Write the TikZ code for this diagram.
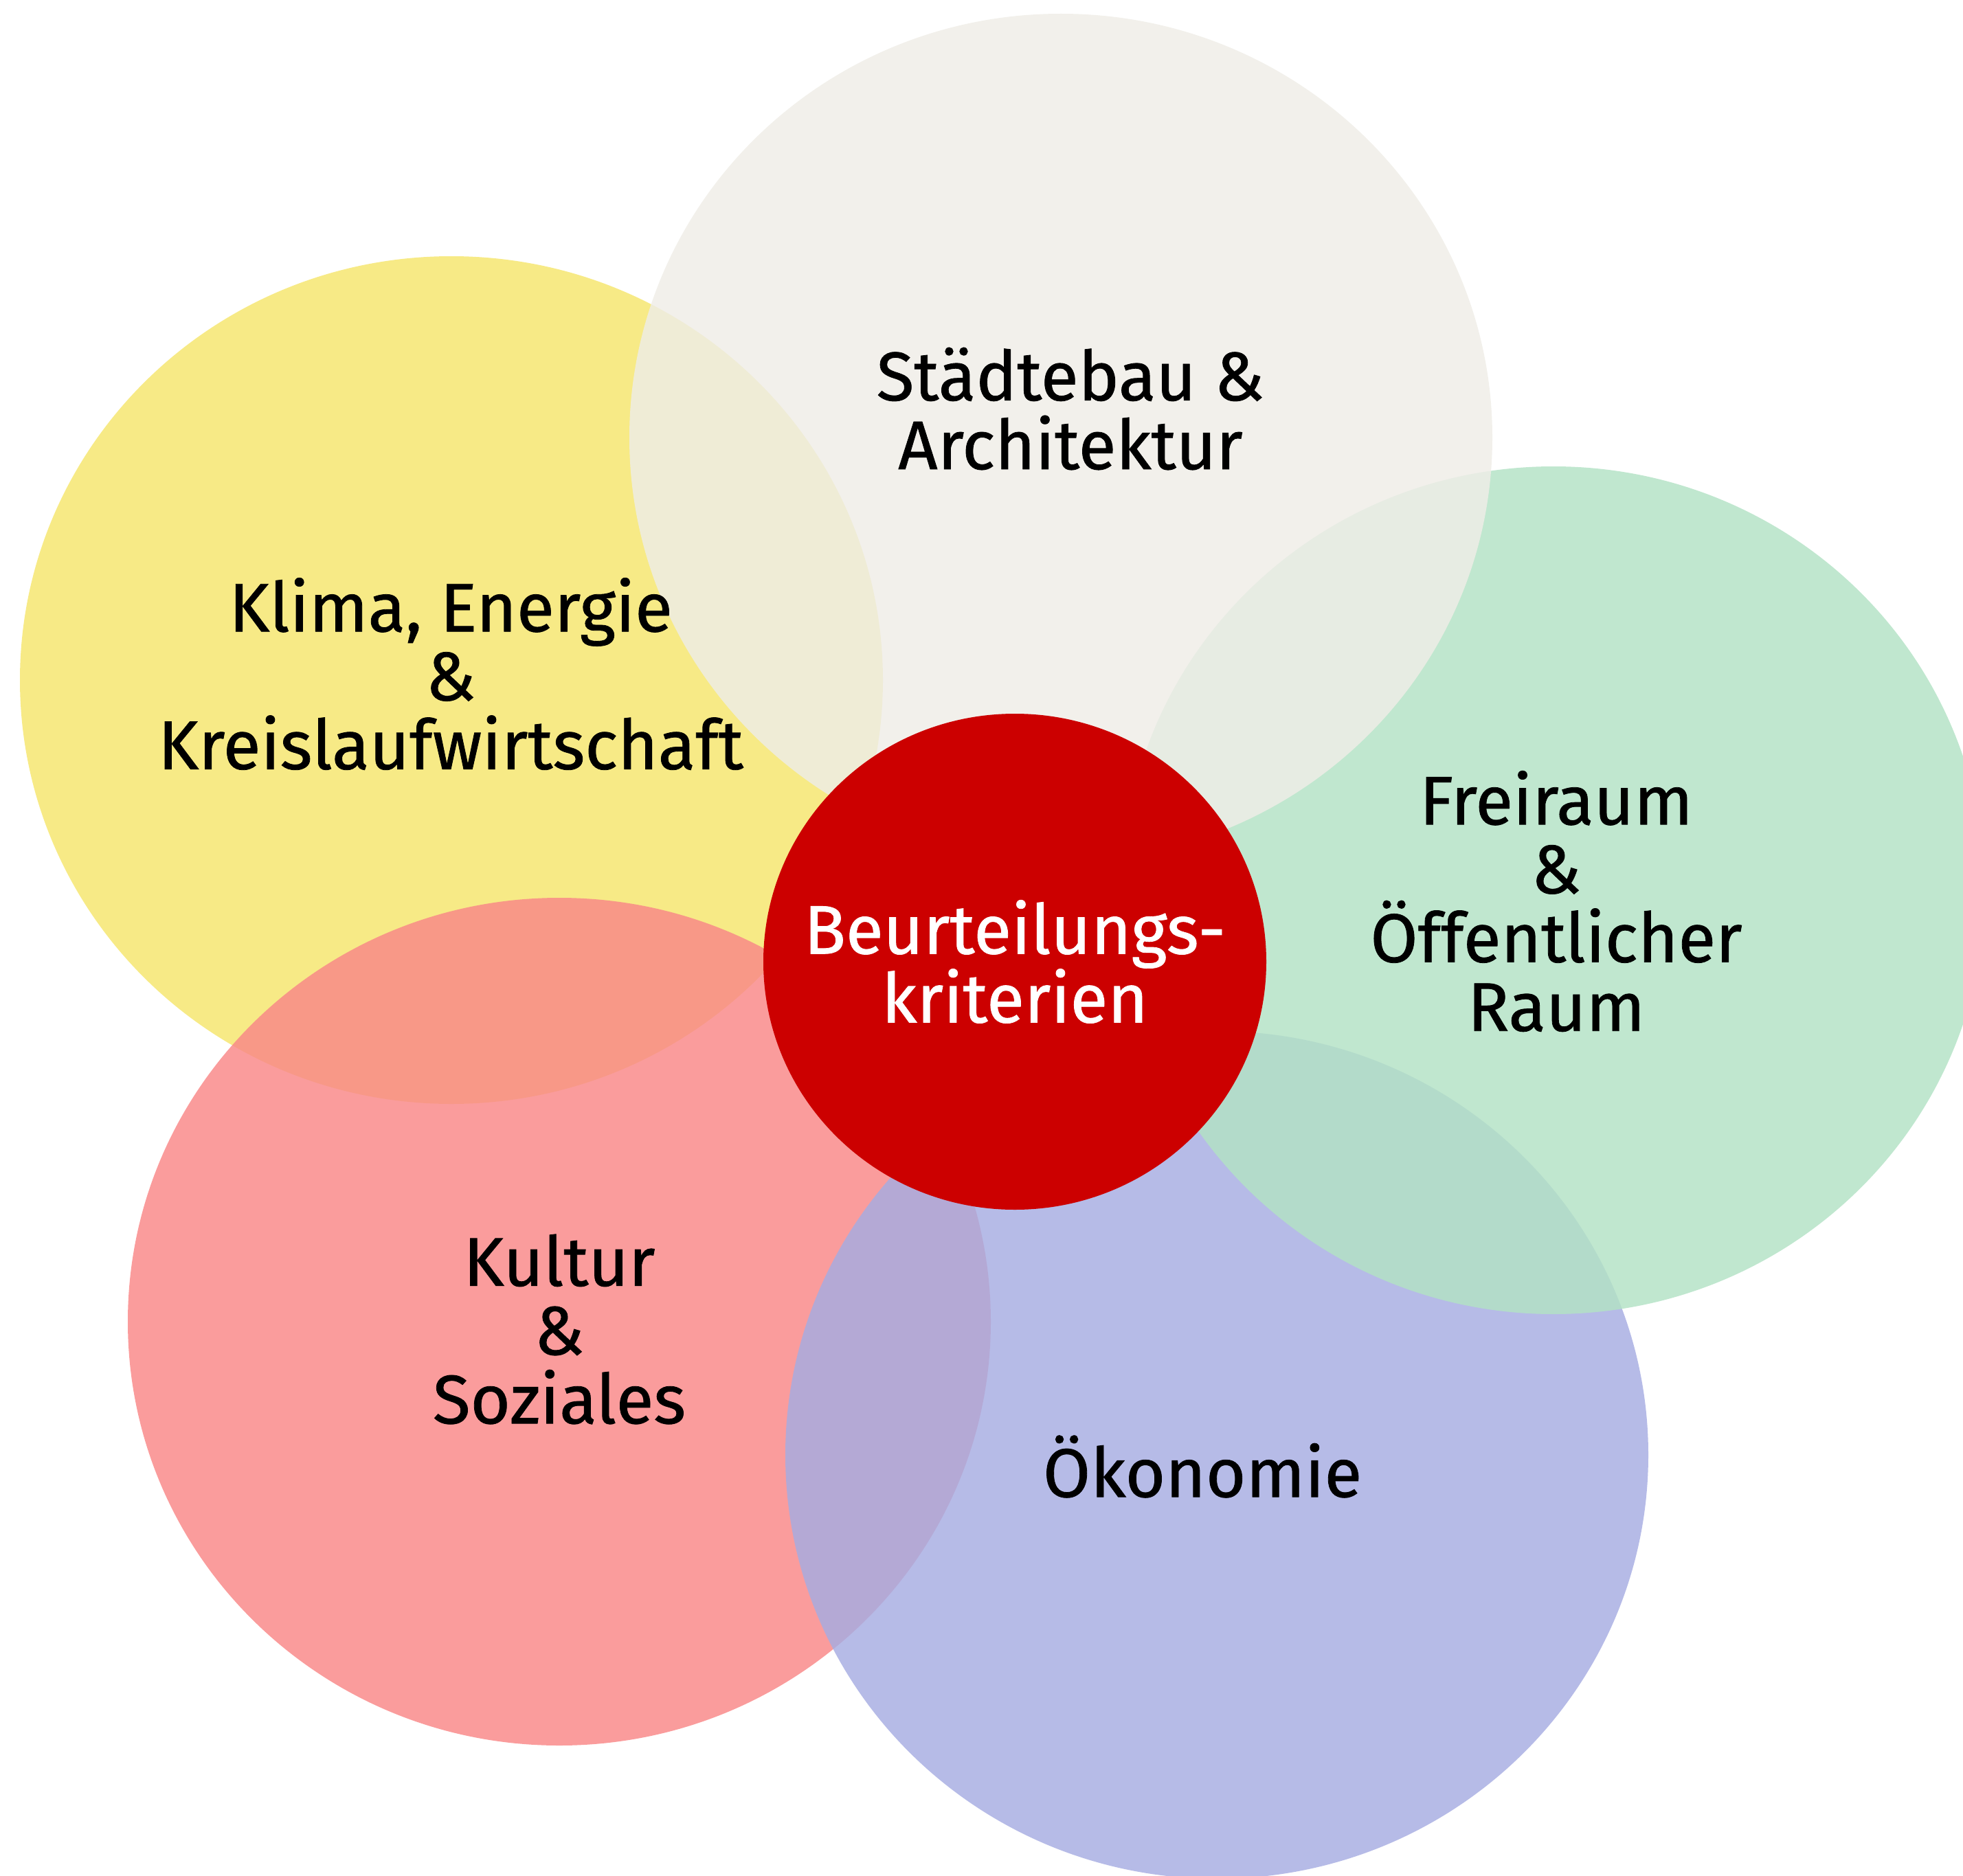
\documentclass[tikz,border=0pt]{standalone}
\usepackage{fontspec}
\setmainfont{Fira Sans}
\newfontfamily\fieldfont[FakeBold=0.8]{Fira Sans}
\usetikzlibrary{shapes.geometric}

\definecolor{klimagelb}{RGB}{245,230,110}
\definecolor{kulturrosa}{RGB}{249,136,136}
\definecolor{oekoblau}{RGB}{167,173,226}
\definecolor{freigruen}{RGB}{179,226,197}
\definecolor{baubeige}{RGB}{239,237,231}
\definecolor{kritrot}{RGB}{204,0,0}

\begin{document}
\begin{tikzpicture}
    \tikzstyle{field}=[ellipse, minimum width=12.56cm, minimum height=12.34cm, inner sep=0pt, fill opacity=0.83]
    \tikzstyle{fieldtext}=[align=center, inner sep=0pt, font=\fieldfont\fontsize{28.5}{28.5}\selectfont]
    \useasboundingbox (0,0) rectangle (28.57,-27.31);
    \clip (0,0) rectangle (28.57,-27.31);

    % draw fields
    \foreach \n/\c/\x/\y in {klima/klimagelb/6.57/-9.90, kultur/kulturrosa/8.14/-19.24, oekonomie/oekoblau/17.71/-21.18, freiraum/freigruen/22.61/-12.96, staedtebau/baubeige/15.44/-6.37}
    \node [field, fill=\c] (\n) at (\x,\y) {};

    \node [ellipse, fill=kritrot, minimum width=7.32cm, minimum height=7.22cm, inner sep=0pt] (kriterien) at (14.77,-14.00) {};

    % draw text
    \node [fieldtext, text=white] (kriterien-text) at (kriterien) {Beurteilungs-\\kriterien};
    \node [fieldtext] (staedtebau-text) at (15.58,-5.95) {Städtebau \&\\Architektur};
    \node [fieldtext] (klima-text) at (6.56,-9.81) {Klima, Energie\\\&\\Kreislaufwirtschaft};
    \node [fieldtext] (freiraum-text) at (22.65,-13.12) {Freiraum\\\&\\Öffentlicher\\Raum};
    \node [fieldtext] (kultur-text) at (8.14,-19.35) {Kultur\\\&\\Soziales};
    \node [fieldtext] (oekonomie-text) at (17.50,-21.35) {Ökonomie};

\end{tikzpicture}
\end{document}
